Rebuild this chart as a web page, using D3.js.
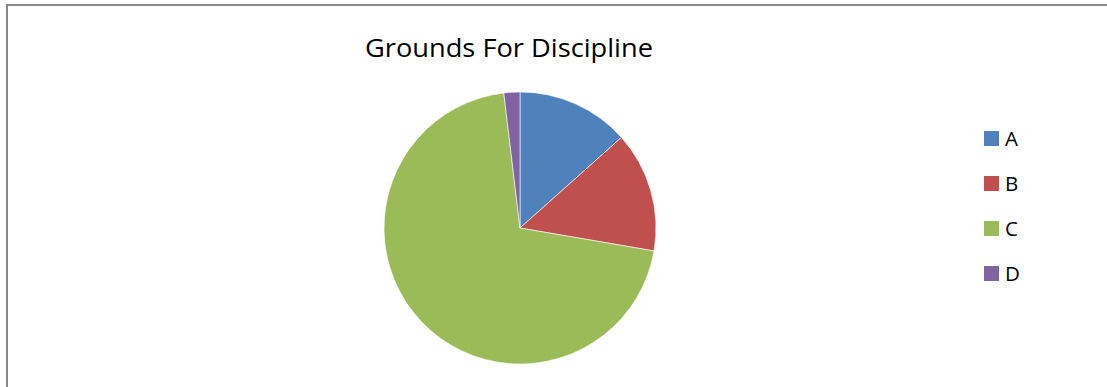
<!DOCTYPE html>
<html>
<head>
<meta charset="utf-8">
<title>Grounds For Discipline</title>
<script src="https://d3js.org/d3.v7.min.js"></script>
<style>
  html, body { margin: 0; padding: 0; background: #fff; }
  svg { display: block; }
</style>
</head>
<body>
<svg id="chart" width="1107" height="387"></svg>
<script>
// values (percent of whole)
const categories = ["A", "B", "C", "D"];
const values = [13.4, 14.3, 70.4, 1.9];
const colors = ["#4f81bd", "#c0504d", "#9bbb59", "#8064a2"];
const title = "Grounds For Discipline";

const svg = d3.select("#chart");
const font = "'Open Sans', 'Noto Sans', sans-serif";

// chart area frame (cut off at right and bottom)
svg.append("rect")
  .attr("x", 7).attr("y", 5)
  .attr("width", 1110).attr("height", 400)
  .attr("fill", "none")
  .attr("stroke", "#898989")
  .attr("stroke-width", 2);

svg.append("text")
  .attr("x", 365).attr("y", 57)
  .attr("font-family", font)
  .attr("font-size", 25)
  .attr("textLength", 288)
  .attr("lengthAdjust", "spacingAndGlyphs")
  .attr("fill", "#000")
  .text(title);

const cx = 520, cy = 228, r = 136;
const pie = d3.pie().sort(null).value(d => d);
const arc = d3.arc().innerRadius(0).outerRadius(r);

const g = svg.append("g").attr("transform", `translate(${cx},${cy})`);
g.selectAll("path")
  .data(pie(values))
  .enter().append("path")
  .attr("d", arc)
  .attr("fill", (d, i) => colors[i])
  .attr("stroke", "#fff")
  .attr("stroke-width", 0.6);

// legend
const legend = svg.append("g").attr("transform", "translate(984,131)");
const item = legend.selectAll("g")
  .data(categories)
  .enter().append("g")
  .attr("transform", (d, i) => `translate(0,${i * 45})`);
item.append("rect")
  .attr("width", 15).attr("height", 15)
  .attr("fill", (d, i) => colors[i]);
item.append("text")
  .attr("x", 21).attr("y", 15)
  .attr("font-family", font)
  .attr("font-size", 20.5)
  .attr("fill", "#000")
  .text(d => d);
</script>
</body>
</html>
